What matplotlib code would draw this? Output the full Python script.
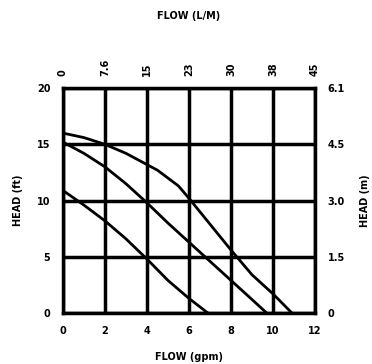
import matplotlib
matplotlib.use('Agg')
import matplotlib.pyplot as plt

plt.rcParams['font.family'] = ['Liberation Sans Narrow', 'DejaVu Sans']
plt.rcParams['font.weight'] = 'bold'

# pump curves, head (ft) vs flow (gpm)
flow_top = [0, 1, 2, 3, 4, 4.5, 5, 5.5, 6, 7, 8, 9, 10, 10.9]
head_top = [16, 15.6, 15, 14.2, 13.2, 12.7, 12, 11.3, 10.2, 7.9, 5.6, 3.4, 1.7, 0]
flow_mid = [0, 1, 2, 3, 4, 5, 6, 7, 8, 9, 9.7]
head_mid = [15.2, 14.2, 13, 11.5, 9.8, 8, 6.3, 4.6, 2.9, 1.2, 0]
flow_low = [0, 1, 2, 3, 4, 5, 6, 6.9]
head_low = [10.9, 9.6, 8.2, 6.6, 4.8, 2.9, 1.3, 0]

gpm_ticks = [0, 2, 4, 6, 8, 10, 12]
lpm_labels = ['0', '7.6', '15', '23', '30', '38', '45']
ft_ticks = [0, 5, 10, 15, 20]
m_labels = ['0', '1.5', '3.0', '4.5', '6.1']

fig = plt.figure(figsize=(3.72, 3.64), dpi=100)
ax = fig.add_axes([0.169, 0.14, 0.678, 0.618])

for f, h in [(flow_top, head_top), (flow_mid, head_mid), (flow_low, head_low)]:
    ax.plot(f, h, color='black', lw=2)

ax.set_xlim(0, 12)
ax.set_ylim(0, 20)
ax.set_xticks(gpm_ticks)
ax.set_yticks(ft_ticks)
ax.grid(True, color='black', lw=2.5)
for s in ax.spines.values():
    s.set_linewidth(2.5)
ax.tick_params(length=0, labelsize=7, pad=9)
ax.set_xlabel('FLOW (gpm)', fontsize=7, fontweight='bold', labelpad=12)
ax.set_ylabel('HEAD (ft)', fontsize=7, fontweight='bold', labelpad=10)

ax2 = ax.twinx()
ax2.set_ylim(0, 20)
ax2.set_yticks(ft_ticks)
ax2.set_yticklabels(m_labels)
ax2.tick_params(length=0, labelsize=7, pad=9)
ax2.set_ylabel('HEAD (m)', fontsize=7, fontweight='bold', labelpad=11)

ax3 = ax.twiny()
ax3.set_xlim(0, 12)
ax3.set_xticks(gpm_ticks)
ax3.set_xticklabels(lpm_labels, rotation=90)
ax3.tick_params(length=0, labelsize=7, pad=9)
ax3.set_xlabel('FLOW (L/M)', fontsize=7, fontweight='bold', labelpad=28)

fig.savefig('out.png', dpi=100)
